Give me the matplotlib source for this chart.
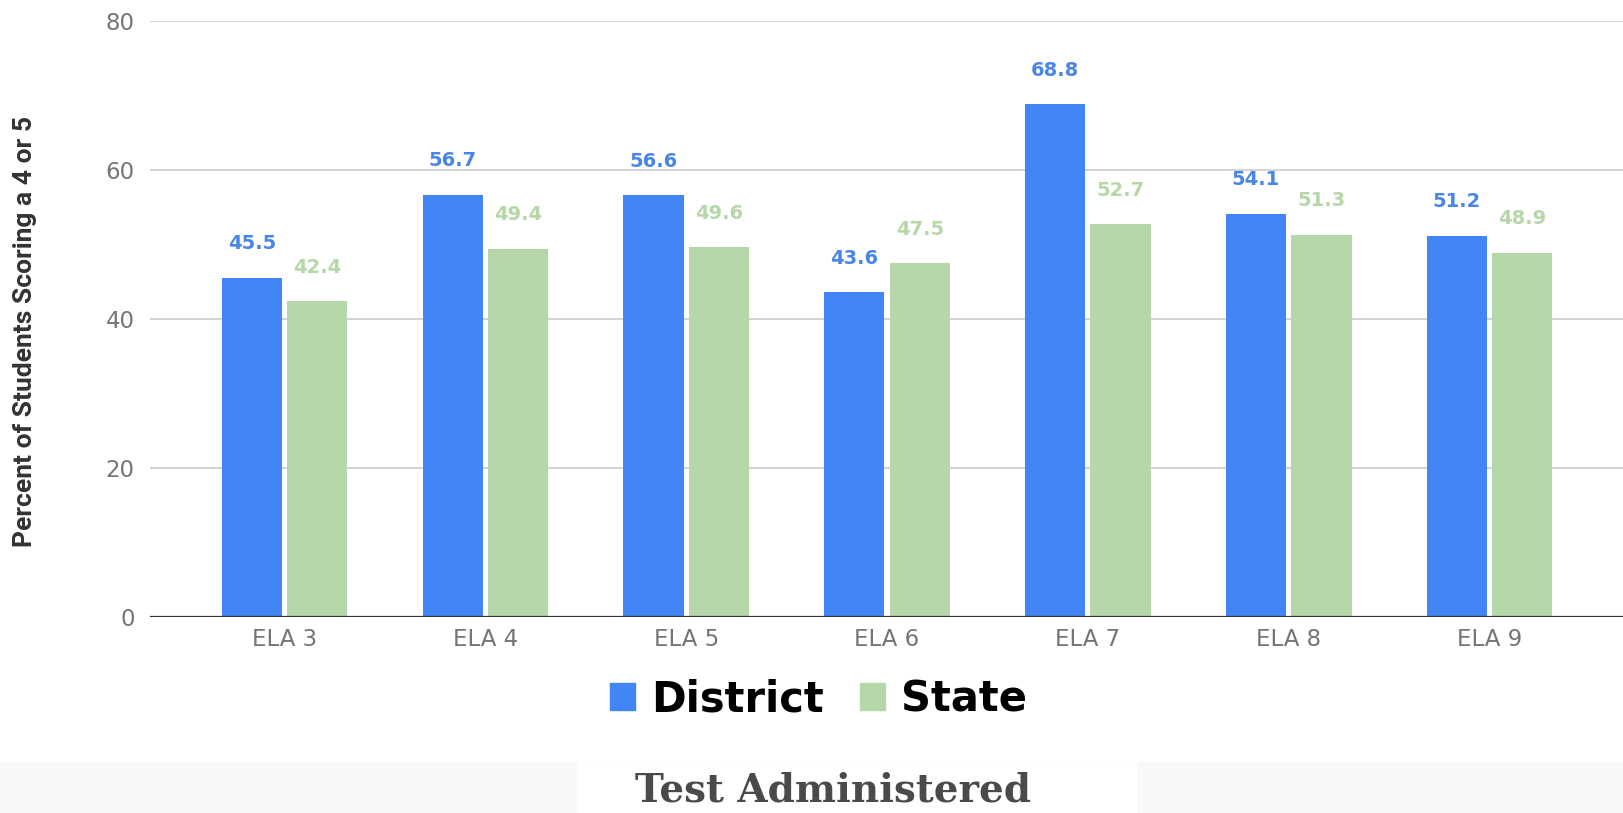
import numpy as np
import matplotlib
matplotlib.use('Agg')
import matplotlib.pyplot as plt
from matplotlib.patches import Patch, Rectangle

# data
tests = ['ELA 3', 'ELA 4', 'ELA 5', 'ELA 6', 'ELA 7', 'ELA 8', 'ELA 9']
district = [45.5, 56.7, 56.6, 43.6, 68.8, 54.1, 51.2]
state = [42.4, 49.4, 49.6, 47.5, 52.7, 51.3, 48.9]
yticks = [0, 20, 40, 60, 80]

blue = '#4285f4'
green = '#b6d7a8'

plt.rcParams['font.family'] = ['DejaVu Sans']

fig = plt.figure(figsize=(16.24, 8.13), dpi=100)
ax = fig.add_axes([0.0924, 0.2411, 0.9076, 0.7331])

x = np.arange(len(tests))
w = 0.30
off = 0.163
b1 = ax.bar(x - off, district, w, color=blue, zorder=3)
b2 = ax.bar(x + off, state, w, color=green, zorder=3)

# value labels
for bars, vals, c in [(b1, district, '#4a86e8'), (b2, state, green)]:
    for rect, v in zip(bars, vals):
        ax.annotate(f'{v:.1f}', (rect.get_x() + rect.get_width() / 2, v),
                    xytext=(0, 24.5), textcoords='offset points',
                    ha='center', va='center', fontsize=14,
                    fontweight='bold', color=c)

ax.set_xlim(-0.67, 6.67)
ax.set_ylim(0, 80)
ax.set_yticks(yticks)
ax.set_xticks(x)
ax.set_xticklabels(tests)
ax.tick_params(axis='both', length=0, labelsize=16.5, labelcolor='#757575')
ax.tick_params(axis='y', pad=11)
ax.tick_params(axis='x', pad=8)
ax.grid(axis='y', color='#cccccc', lw=1.2, zorder=0)
ax.axhline(0, color='#333333', lw=1.6, zorder=4)
for s in ax.spines.values():
    s.set_visible(False)

fig.text(0.0154, 0.592, 'Percent of Students Scoring a 4 or 5', rotation=90,
         ha='center', va='center', fontsize=19, fontweight='bold',
         family='Roboto', color='#333333')

handles = [Patch(color=blue, label='District'), Patch(color=green, label='State')]
fig.legend(handles=handles, loc='center', bbox_to_anchor=(0.504, 0.14),
           ncol=2, frameon=False, prop={'weight': 'bold', 'size': 30},
           handlelength=0.6, handleheight=0.6, handletextpad=0.4,
           columnspacing=0.86)

# bottom band with axis title
fig.patches.append(Rectangle((0, 0), 1, 51 / 813, transform=fig.transFigure,
                             color='#f8f8f8', zorder=0))
fig.patches.append(Rectangle((577 / 1624, 0), 559 / 1624, 51 / 813,
                             transform=fig.transFigure, color='white', zorder=1))
fig.text(0.513, 0.004, 'Test Administered', ha='center', va='bottom',
         family='DejaVu Serif', fontweight='bold', fontsize=28, color='#4a4a4a')

fig.savefig('out.png', dpi=100)
